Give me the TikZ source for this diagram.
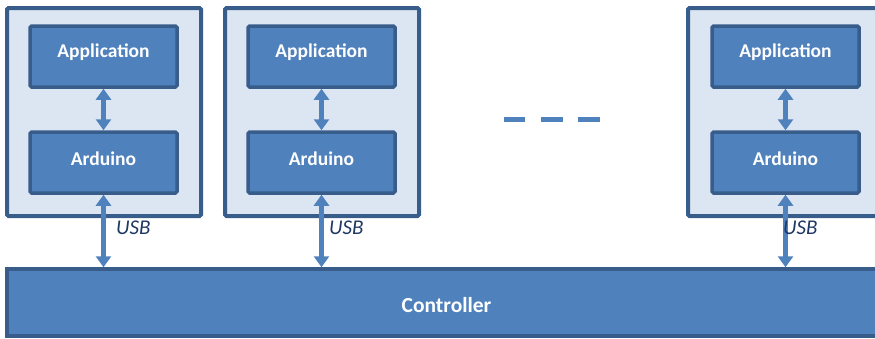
\documentclass[tikz,border=0pt]{standalone}
\usepackage{fontspec}
\setmainfont{Carlito}
\usetikzlibrary{arrows.meta}
\definecolor{fillL}{HTML}{DCE6F2}
\definecolor{edgeD}{HTML}{385D8A}
\definecolor{boxB}{HTML}{4F81BD}
\definecolor{usbC}{HTML}{1F3864}
\tikzset{
  outerbox/.style={draw=edgeD, fill=fillL, line width=4pt, rounded corners=1.5pt, minimum width=194pt, minimum height=208pt, inner sep=0pt},
  innerbox/.style={draw=edgeD, fill=boxB, line width=3.5pt, rounded corners=1.5pt, minimum width=147pt, minimum height=61pt, inner sep=0pt},
  boxtext/.style={text=white, inner sep=0pt, font=\fontsize{19.5}{22}\selectfont\bfseries},
  ctrlbox/.style={draw=edgeD, fill=boxB, line width=3.5pt, minimum width=879pt, minimum height=67pt, inner sep=0pt},
  ctrltext/.style={text=white, inner sep=0pt, font=\fontsize{21.5}{24}\selectfont\bfseries},
  dblarrow/.style={draw=boxB, line width=5pt, {Triangle[width=15pt,length=11pt]}-{Triangle[width=15pt,length=11pt]}},
  usblabel/.style={text=usbC, font=\fontsize{21}{24}\selectfont\itshape, inner sep=0pt, anchor=west},
  dashline/.style={draw=boxB, line width=5pt}
}
\begin{document}
\begin{tikzpicture}[x=1pt,y=-1pt]
\useasboundingbox (0,0) rectangle (875,338);
\clip (0,0) rectangle (875,338);
% controller
\node[ctrlbox] (ctrl) at (446.5,302.5) {};
\node[ctrltext] (ctrlt) at ([yshift=-2.5pt]ctrl.center) {Controller};
% outer boxes
\node[outerbox] (o1) at (104,112) {};
\node[outerbox] (o2) at (322,112) {};
\node[outerbox] (o3) at (785,112) {};
% inner boxes
\node[innerbox] (a1) at (103.5,56.5) {};
\node[innerbox] (d1) at (103.5,162.5) {};
\node[innerbox] (a2) at (321.5,56.5) {};
\node[innerbox] (d2) at (321.5,162.5) {};
\node[innerbox] (a3) at (785.5,56.5) {};
\node[innerbox] (d3) at (785.5,162.5) {};
\node[boxtext] (a1t) at ([yshift=4.5pt]a1.center) {Application};
\node[boxtext] (d1t) at ([yshift=4pt]d1.center) {Arduino};
\node[boxtext] (a2t) at ([yshift=4.5pt]a2.center) {Application};
\node[boxtext] (d2t) at ([yshift=4pt]d2.center) {Arduino};
\node[boxtext] (a3t) at ([yshift=4.5pt]a3.center) {Application};
\node[boxtext] (d3t) at ([yshift=4pt]d3.center) {Arduino};
% arrows
\draw[dblarrow] (a1.south) -- (d1.north);
\draw[dblarrow] (a2.south) -- (d2.north);
\draw[dblarrow] (a3.south) -- (d3.north);
\draw[dblarrow] (d1.south) -- (d1.south |- ctrl.north);
\draw[dblarrow] (d2.south) -- (d2.south |- ctrl.north);
\draw[dblarrow] (d3.south) -- (d3.south |- ctrl.north);
% USB labels
\node[usblabel] (u1) at (116,228) {USB};
\node[usblabel] (u2) at (329,228) {USB};
\node[usblabel] (u3) at (783,228) {USB};
% dashes
\coordinate (s1) at (504,119); \coordinate (e1) at (525,119);
\coordinate (s2) at (541,119); \coordinate (e2) at (563,119);
\coordinate (s3) at (578,119); \coordinate (e3) at (600,119);
\draw[dashline] (s1) -- (e1);
\draw[dashline] (s2) -- (e2);
\draw[dashline] (s3) -- (e3);
\end{tikzpicture}
\end{document}
